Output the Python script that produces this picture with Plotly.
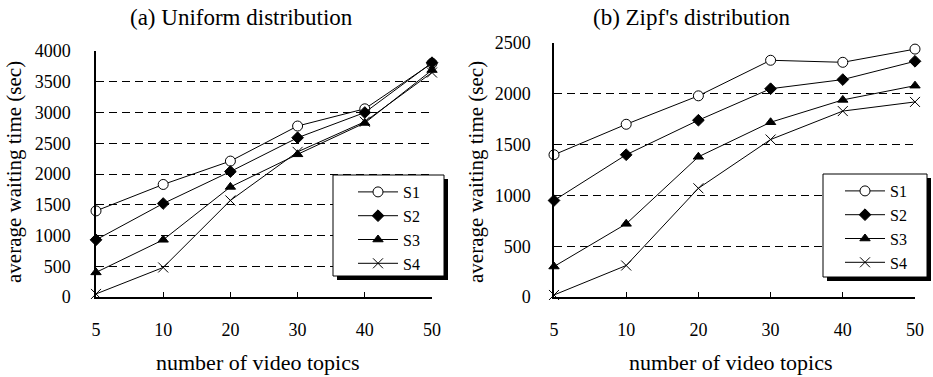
import plotly.graph_objects as go

# ---------------- data ----------------
categories = ["5", "10", "20", "30", "40", "50"]
series_names = ["S1", "S2", "S3", "S4"]

uniform_s1 = [1400, 1830, 2210, 2780, 3060, 3800]
uniform_s2 = [930, 1520, 2040, 2590, 3000, 3810]
uniform_s3 = [400, 930, 1790, 2320, 2830, 3690]
uniform_s4 = [50, 480, 1570, 2360, 2850, 3650]

zipf_s1 = [1400, 1700, 1980, 2330, 2310, 2440]
zipf_s2 = [950, 1400, 1740, 2050, 2140, 2320]
zipf_s3 = [300, 720, 1380, 1720, 1940, 2080]
zipf_s4 = [20, 310, 1070, 1550, 1830, 1920]

uniform_ticks = [0, 500, 1000, 1500, 2000, 2500, 3000, 3500, 4000]
zipf_ticks = [0, 500, 1000, 1500, 2000, 2500]

# ---------------- layout helpers ----------------
W, H = 933, 377
FONT = "Liberation Serif, Times New Roman, serif"


def px(x):
    return x / W


def py(y):
    return 1 - y / H


symbols = ["circle", "diamond", "triangle-up", "x-thin-open"]
fills = ["white", "black", "black", "black"]
sizes = [10, 9, 9, 10]

fig = go.Figure()

xpos = list(range(len(categories)))

for panel, data in enumerate([[uniform_s1, uniform_s2, uniform_s3, uniform_s4],
                              [zipf_s1, zipf_s2, zipf_s3, zipf_s4]]):
    xa = "x" if panel == 0 else "x2"
    ya = "y" if panel == 0 else "y2"
    leg = "legend" if panel == 0 else "legend2"
    for name, vals, sym, fill, sz in zip(series_names, data, symbols, fills, sizes):
        fig.add_trace(go.Scatter(
            x=xpos, y=vals, name=name, mode="lines+markers",
            xaxis=xa, yaxis=ya, legend=leg, cliponaxis=False,
            line=dict(color="black", width=1),
            marker=dict(symbol=sym, size=sz, color=fill,
                        line=dict(color="black", width=1)),
        ))

axis_common = dict(showline=True, linecolor="black", linewidth=1.5, zeroline=False,
                   automargin=False,
                   tickfont=dict(family=FONT, size=18, color="black"))

legend_common = dict(xanchor="left", yanchor="top",
                     bgcolor="rgba(0,0,0,0)", borderwidth=0,
                     font=dict(family=FONT, size=16, color="black"),
                     tracegroupgap=0, itemwidth=40)

fig.update_layout(
    width=W, height=H,
    margin=dict(l=0, r=0, t=0, b=0, autoexpand=False),
    paper_bgcolor="white", plot_bgcolor="white",
    font=dict(family=FONT, color="black"),
    showlegend=True,
    xaxis=dict(domain=[px(96), px(432)], range=[0, 5], anchor="y",
               tickvals=xpos, ticktext=categories, ticks="inside", ticklen=5,
               tickcolor="black", ticklabelstandoff=16, showgrid=False, **axis_common),
    yaxis=dict(domain=[py(297), py(51)], range=[0, 4000], anchor="x",
               tickvals=uniform_ticks, ticks="", ticklabelstandoff=20,
               showgrid=True, gridcolor="black", gridwidth=1, griddash="8px,5px", **axis_common),
    xaxis2=dict(domain=[px(554), px(915)], range=[0, 5], anchor="y2",
                tickvals=xpos, ticktext=categories, ticks="inside", ticklen=5,
                tickcolor="black", ticklabelstandoff=16, showgrid=False, **axis_common),
    yaxis2=dict(domain=[py(297), py(43)], range=[0, 2500], anchor="x2",
                tickvals=zipf_ticks, ticks="", ticklabelstandoff=18,
                showgrid=True, gridcolor="black", gridwidth=1, griddash="8px,5px", **axis_common),
    legend=dict(x=px(353), y=py(175), **legend_common),
    legend2=dict(x=px(840), y=py(174), **legend_common),
)

# legend boxes with shadow (drawn as shapes, legends sit on top)
for (x0, y0, x1, y1) in [(333, 175, 444, 276), (823, 174, 927, 277)]:
    fig.add_shape(type="rect", xref="paper", yref="paper",
                  x0=px(x0 + 4), x1=px(x1 + 4), y0=py(y1 + 4), y1=py(y0 + 4),
                  fillcolor="black", line=dict(width=0), layer="above")
    fig.add_shape(type="rect", xref="paper", yref="paper",
                  x0=px(x0), x1=px(x1), y0=py(y1), y1=py(y0),
                  fillcolor="white", line=dict(color="black", width=1), layer="above")

# titles
annotations = [
    dict(text="(a) Uniform distribution", x=px(241), y=py(18), size=23, angle=0),
    dict(text="(b) Zipf's distribution", x=px(692), y=py(18), size=23, angle=0),
    dict(text="number of video topics", x=px(257), y=py(362), size=22, angle=0),
    dict(text="number of video topics", x=px(730), y=py(362), size=22, angle=0),
    dict(text="average waiting time (sec)", x=px(14), y=py(172), size=21, angle=-90),
    dict(text="average waiting time (sec)", x=px(476), y=py(172), size=21, angle=-90),
]
for a in annotations:
    fig.add_annotation(text=a["text"], x=a["x"], y=a["y"], xref="paper", yref="paper",
                       showarrow=False, textangle=a["angle"], xanchor="center", yanchor="middle",
                       font=dict(family=FONT, size=a["size"], color="black"))

# remove the default page margin so the figure fills the window exactly
fig.write_html("out.html",
               config={"displayModeBar": False},
               post_script="document.body.style.margin='0';document.body.style.overflow='hidden';")
